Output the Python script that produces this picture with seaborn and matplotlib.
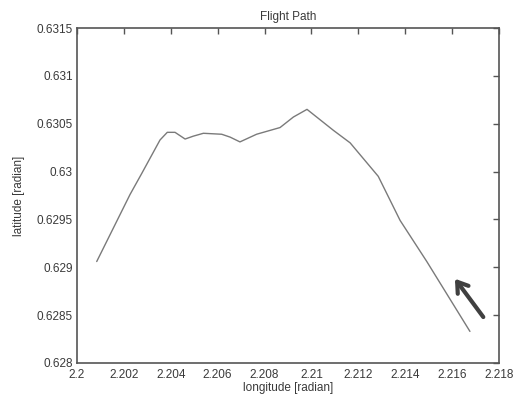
import matplotlib
matplotlib.use("Agg")
import matplotlib.pyplot as plt
from matplotlib.ticker import FuncFormatter
import pandas as pd
import seaborn as sns

# Flight track in geodetic coordinates (radians)
longitude = [2.20084, 2.20155, 2.20226, 2.20276, 2.20354, 2.20385, 2.20418,
             2.20461, 2.20496, 2.20539, 2.20617, 2.20653, 2.20695, 2.20766,
             2.20866, 2.20923, 2.20981, 2.21094, 2.21165, 2.21285, 2.21378,
             2.21492, 2.21676]
latitude = [0.62906, 0.62941, 0.62976, 0.62998, 0.63033, 0.63041, 0.63041,
            0.63034, 0.63037, 0.63040, 0.63039, 0.63036, 0.63031, 0.63039,
            0.63046, 0.63057, 0.63065, 0.63043, 0.63030, 0.62995, 0.62949,
            0.62906, 0.62833]

# Direction-of-travel arrow (tail -> head)
arrow_tail = (2.21733, 0.62848)
arrow_head = (2.21612, 0.62888)

x_ticks = [2.200, 2.202, 2.204, 2.206, 2.208, 2.210, 2.212, 2.214, 2.216, 2.218]
y_ticks = [0.6280, 0.6285, 0.6290, 0.6295, 0.6300, 0.6305, 0.6310, 0.6315]

track = pd.DataFrame({"longitude": longitude, "latitude": latitude})

sns.set_theme(style="white")
plt.rcParams["font.family"] = ["Liberation Sans", "DejaVu Sans"]

text_color = "#3a3a3a"
axis_color = "#555555"

fig = plt.figure(figsize=(5.29, 4.03), dpi=100)
ax = fig.add_axes([0.1456, 0.0993, 0.7977, 0.8312])

sns.lineplot(data=track, x="longitude", y="latitude", sort=False,
             color="#7a7a7a", linewidth=1.0, ax=ax)

ax.annotate("", xy=arrow_head, xytext=arrow_tail,
            arrowprops=dict(arrowstyle="->,head_length=0.6,head_width=0.4",
                            color="#404040", lw=3.0, shrinkA=0, shrinkB=0))

ax.set_xlim(x_ticks[0], x_ticks[-1])
ax.set_ylim(y_ticks[0], y_ticks[-1])
ax.set_xticks(x_ticks)
ax.set_yticks(y_ticks)
fmt = FuncFormatter(lambda v, pos: f"{v:.4f}".rstrip("0").rstrip("."))
ax.xaxis.set_major_formatter(fmt)
ax.yaxis.set_major_formatter(fmt)

ax.tick_params(direction="in", length=4, width=1, colors=axis_color,
               labelcolor=text_color, labelsize=8.5, top=True, right=True,
               pad=2)
ax.tick_params(axis="x", pad=4)
ax.tick_params(axis="y", pad=3)
for spine in ax.spines.values():
    spine.set_visible(True)
    spine.set_color(axis_color)
    spine.set_linewidth(1.2)

ax.set_title("Flight Path", fontsize=8.5, color=text_color, pad=6)
ax.set_xlabel("longitude [radian]", fontsize=8.5, color=text_color, labelpad=1)
ax.set_ylabel("latitude [radian]", fontsize=8.5, color=text_color, labelpad=8)

fig.savefig("out.png", dpi=100, facecolor="white")
